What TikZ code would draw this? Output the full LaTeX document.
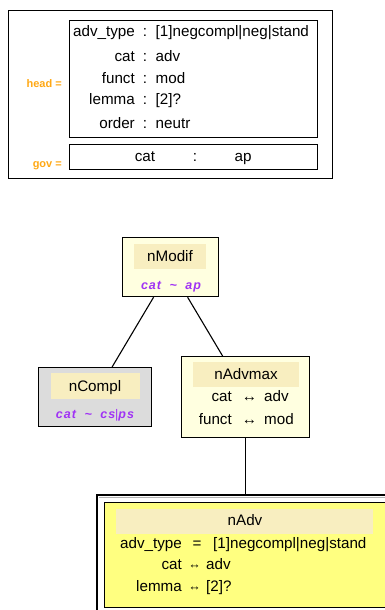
\documentclass[tikz,border=0pt]{standalone}
\usepackage{fontspec}
\setmainfont{Liberation Sans}
\usetikzlibrary{calc}
\definecolor{lightyel}{RGB}{255,255,224}
\definecolor{titlefill}{RGB}{248,238,192}
\definecolor{graybox}{RGB}{220,220,220}
\definecolor{yelbox}{RGB}{255,255,128}
\definecolor{purp}{RGB}{160,50,245}
\definecolor{orng}{RGB}{255,168,20}
\tikzset{
  frame/.style={draw=black, line width=1.2pt, inner sep=0pt, anchor=north west},
  titlebox/.style={fill=titlefill, inner sep=0pt, anchor=north west},
  txt/.style={font=\fontsize{15.2}{17}\selectfont, inner sep=0pt, anchor=base},
  txtw/.style={txt, anchor=base west},
  txte/.style={txt, anchor=base east},
  lbl/.style={font=\fontsize{11}{13}\selectfont\bfseries, text=orng, inner sep=0pt, anchor=base east},
  cons/.style={font=\fontsize{12.5}{14}\selectfont\bfseries\itshape\addfontfeature{LetterSpace=8}, text=purp, inner sep=0pt, anchor=base},
  conn/.style={draw=black, line width=1.1pt},
  smallarr/.style={txt, font=\fontsize{12.5}{14}\selectfont},
}
\newcommand{\tld}{\hspace{8.5pt}\textasciitilde\hspace{8.5pt}}
\begin{document}
\begin{tikzpicture}[x=1pt,y=-1pt]
\useasboundingbox (0,0) rectangle (385,610);
% top pattern
\node[frame, minimum width=324pt, minimum height=168pt] (outer) at (8,10) {};
\node[frame, minimum width=248pt, minimum height=117pt] (head) at (69,20) {};
\node[frame, minimum width=248pt, minimum height=25pt] (gov) at (69,144) {};
\node[lbl] (headlbl) at (62,88) {head =};
\node[lbl] (govlbl) at (62,167) {gov =};
\foreach \k/\v/\y [count=\i] in {adv\_type/[1]negcompl|neg|stand/37,cat/adv/61,funct/mod/83,lemma/[2]?/104,order/neutr/128}{
  \node[txte] (hk\i) at (135,\y) {\k};
  \node[txt] (hc\i) at (145,\y) {:};
  \node[txtw] (hv\i) at (155.5,\y) {\v};
}
\node[txt] (gk) at (145,161) {cat};
\node[txt] (gc) at (195,161) {:};
\node[txt] (gv) at (243,161) {ap};
% nModif
\node[frame, fill=lightyel, minimum width=96pt, minimum height=59pt] (nModif) at (122,237) {};
\node[titlebox, minimum width=72pt, minimum height=25pt] (nModifT) at (134,244) {};
\node[txt] (nModifL) at (170,261) {nModif};
\node[cons] (nModifC) at (171,289) {cat\tld{}ap};
% nCompl
\node[frame, fill=graybox, minimum width=113pt, minimum height=59pt] (nCompl) at (38,367) {};
\node[titlebox, minimum width=89pt, minimum height=26pt] (nComplT) at (51,373) {};
\node[txt] (nComplL) at (95,391) {nCompl};
\node[cons] (nComplC) at (95,418) {cat\tld{}cs{\upshape\mdseries|}ps};
% nAdvmax
\node[frame, fill=lightyel, minimum width=128pt, minimum height=81pt] (nAdvmax) at (181,356) {};
\node[titlebox, minimum width=106pt, minimum height=25pt] (nAdvmaxT) at (193,362) {};
\node[txt] (nAdvmaxL) at (246,379) {nAdvmax};
\node[txte] (am1k) at (232,401) {cat};
\node[txt] (am1a) at (249.5,401) {↔};
\node[txtw] (am1v) at (264,401) {adv};
\node[txte] (am2k) at (232,424) {funct};
\node[txt] (am2a) at (249.5,424) {↔};
\node[txtw] (am2v) at (264,424) {mod};
% nAdv
\coordinate (nAdvBL) at (97,612);
\coordinate (nAdvTL) at (97,495);
\coordinate (nAdvTR) at (390,495);
\draw[line width=1.2pt] (nAdvBL) -- (nAdvTL) -- (nAdvTR);
\draw[line width=0.6pt, gray!60] (99,497.5) -- (390,497.5);
\node[frame, fill=yelbox, minimum width=300pt, minimum height=105pt] (nAdv) at (104,502) {};
\node[titlebox, minimum width=257pt, minimum height=25pt] (nAdvT) at (116,509) {};
\node[txt] (nAdvL) at (245,525) {nAdv};
\node[txte] (a1k) at (182,548) {adv\_type};
\node[txt] (a1a) at (197,548) {=};
\node[txtw] (a1v) at (213,548) {[1]negcompl|neg|stand};
\node[txte] (a2k) at (182,569) {cat};
\node[smallarr] (a2a) at (194.5,568.5) {↔};
\node[txtw] (a2v) at (206,569) {adv};
\node[txte] (a3k) at (182,591) {lemma};
\node[smallarr] (a3a) at (194.5,590.5) {↔};
\node[txtw] (a3v) at (206,591) {[2]?};
% connectors
\draw[conn] ($(nModif.south)+(-17,0)$) -- ($(nCompl.north)+(17,0)$);
\draw[conn] ($(nModif.south)+(17,0)$) -- ($(nAdvmax.north)+(-23,0)$);
\draw[conn] (nAdvmax.south) -- (nAdvTL -| nAdvmax.south);
\end{tikzpicture}
\end{document}
